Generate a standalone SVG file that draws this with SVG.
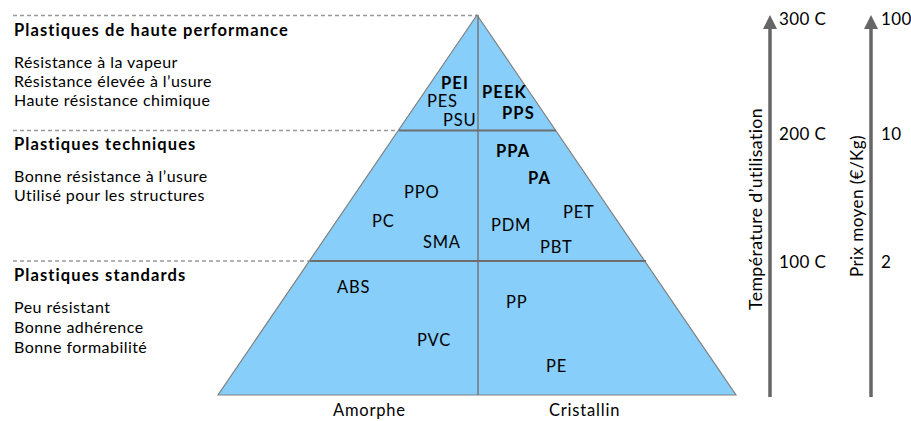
<svg xmlns="http://www.w3.org/2000/svg" width="911" height="421" viewBox="0 0 911 421">
<defs>
<style>
text{font-family:Lato,"Open Sans","DejaVu Sans",sans-serif;font-size:16px;fill:#000;font-variant-ligatures:none;letter-spacing:0.45px}
.b{font-weight:bold;font-size:16.5px;letter-spacing:1.1px}
.m{font-size:16.5px;letter-spacing:0.8px}
.ax{font-size:17px;letter-spacing:0.4px}
.dash{stroke:#999;stroke-width:1.3;stroke-dasharray:4 3;fill:none}
.band{stroke:#6e6e6e;stroke-width:2.2;fill:none}
.axis{stroke:#666;stroke-width:3.5;fill:none}
</style>
<marker id="ah" markerWidth="4" markerHeight="4" refX="2" refY="2" orient="auto" markerUnits="strokeWidth" viewBox="0 0 4 4">
<path d="M0,0 L4,2 L0,4 Z" fill="#666"/>
</marker>
</defs>
<rect width="911" height="421" fill="#fff"/>
<g id="guides">
<line class="dash" x1="13" y1="15.5" x2="477" y2="15.5"/>
<line class="dash" x1="13" y1="130.5" x2="399" y2="130.5"/>
<line class="dash" x1="13" y1="261" x2="311" y2="261"/>
</g>
<g id="pyramid">
<polygon points="477,15 736,395 218,395" fill="#87cefa" stroke="#808080" stroke-width="1.2"/>
<line x1="478" y1="15" x2="478" y2="395" stroke="#777" stroke-width="1.5"/>
<line class="band" x1="399" y1="130.5" x2="556" y2="130.5"/>
<line class="band" x1="310" y1="261" x2="646" y2="261"/>
</g>
<g id="left-labels">
<text class="b" x="14" y="36">Plastiques de haute performance</text>
<text x="14" y="68">Résistance à la vapeur</text>
<text x="14" y="87">Résistance élevée à l’usure</text>
<text x="14" y="106">Haute résistance chimique</text>
<text class="b" x="14" y="150">Plastiques techniques</text>
<text x="14" y="182">Bonne résistance à l’usure</text>
<text x="14" y="201">Utilisé pour les structures</text>
<text class="b" x="14" y="281">Plastiques standards</text>
<text x="14" y="313">Peu résistant</text>
<text x="14" y="333">Bonne adhérence</text>
<text x="14" y="353">Bonne formabilité</text>
</g>
<g id="materials">
<text class="b" x="441" y="89">PEI</text>
<text class="m" x="427" y="107">PES</text>
<text class="m" x="443" y="126">PSU</text>
<text class="b" x="482" y="98">PEEK</text>
<text class="b" x="502" y="119">PPS</text>
<text class="b" x="496" y="157">PPA</text>
<text class="b" x="528" y="184">PA</text>
<text class="m" x="404" y="198">PPO</text>
<text class="m" x="372" y="227">PC</text>
<text class="m" x="423" y="248">SMA</text>
<text class="m" x="491" y="231">PDM</text>
<text class="m" x="563" y="218">PET</text>
<text class="m" x="540" y="253">PBT</text>
<text class="m" x="337" y="293">ABS</text>
<text class="m" x="506" y="308">PP</text>
<text class="m" x="417" y="346">PVC</text>
<text class="m" x="546" y="372">PE</text>
<text class="m" x="333" y="416">Amorphe</text>
<text class="m" x="549" y="416">Cristallin</text>
</g>
<g id="connectors">
<line class="axis" x1="770" y1="397" x2="770" y2="22" marker-end="url(#ah)"/>
<line class="axis" x1="871" y1="397" x2="871" y2="22" marker-end="url(#ah)"/>
</g>
<g id="axis-labels">
<text class="ax" x="779" y="25">300 C</text>
<text class="ax" x="779" y="140">200 C</text>
<text class="ax" x="779" y="268">100 C</text>
<text class="ax" x="881" y="25">100</text>
<text class="ax" x="881" y="140">10</text>
<text class="ax" x="881" y="268">2</text>
<text class="ax" transform="translate(762,209) rotate(-90)" text-anchor="middle" textLength="202" lengthAdjust="spacingAndGlyphs">Température d’utilisation</text>
<text class="ax" transform="translate(863,206) rotate(-90)" text-anchor="middle" textLength="142" lengthAdjust="spacingAndGlyphs">Prix moyen (€/Kg)</text>
</g>
</svg>
